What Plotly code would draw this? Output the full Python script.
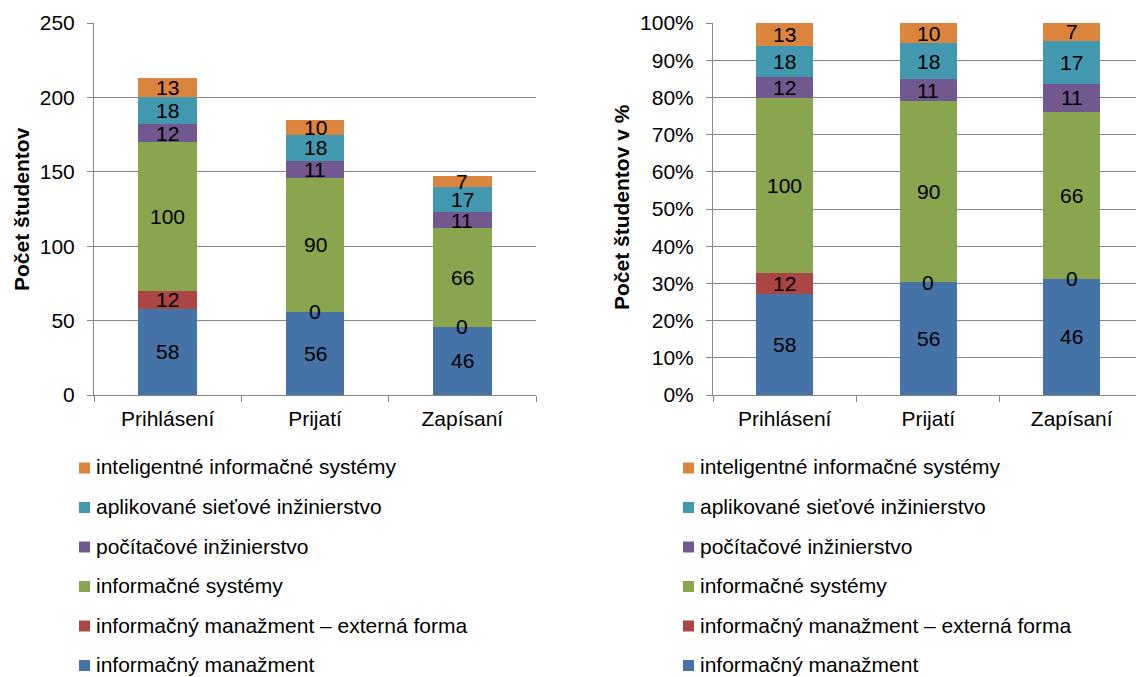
import plotly.graph_objects as go

categories = ["Prihlásení", "Prijatí", "Zapísaní"]
series_names = [
    "informačný manažment",
    "informačný manažment – externá forma",
    "informačné systémy",
    "počítačové inžinierstvo",
    "aplikované sieťové inžinierstvo",
    "inteligentné informačné systémy",
]
informacny_manazment = [58, 56, 46]
informacny_manazment_ext = [12, 0, 0]
informacne_systemy = [100, 90, 66]
pocitacove_inzinierstvo = [12, 11, 11]
aplikovane_sietove = [18, 18, 17]
inteligentne_is = [13, 10, 7]
series_values = [
    informacny_manazment,
    informacny_manazment_ext,
    informacne_systemy,
    pocitacove_inzinierstvo,
    aplikovane_sietove,
    inteligentne_is,
]
colors = ["#4572A7", "#AA4643", "#89A54E", "#71588F", "#4198AF", "#DB843D"]
y_ticks_abs = [0, 50, 100, 150, 200, 250]
y_ticks_pct = [i / 10 for i in range(11)]

FONT = "Liberation Sans, Arial, sans-serif"
FS = 21
GRID = "#878787"
W, H = 1136, 677

totals = [sum(v[i] for v in series_values) for i in range(len(categories))]

fig = go.Figure()
annotations = []
shapes = []

for name, vals, col in zip(series_names, series_values, colors):
    pct = [v / t for v, t in zip(vals, totals)]
    fig.add_trace(go.Bar(
        x=categories, y=vals, name=name, marker=dict(color=col, line=dict(width=0)),
        xaxis="x", yaxis="y", showlegend=False, width=0.4, hoverinfo="x+y+name",
    ))
    fig.add_trace(go.Bar(
        x=categories, y=pct, name=name, marker=dict(color=col, line=dict(width=0)),
        xaxis="x2", yaxis="y2", showlegend=False, width=0.4, hoverinfo="x+name",
    ))

# value labels at the middle of each stacked segment
base_abs = [0] * len(categories)
base_pct = [0.0] * len(categories)
for vals in series_values:
    for i, cat in enumerate(categories):
        v = vals[i]
        p = v / totals[i]
        annotations.append(dict(x=cat, y=base_abs[i] + v / 2, xref="x", yref="y",
                                text=str(v), showarrow=False,
                                font=dict(family=FONT, size=FS, color="#000")))
        annotations.append(dict(x=cat, y=base_pct[i] + p / 2, xref="x2", yref="y2",
                                text=str(v), showarrow=False,
                                font=dict(family=FONT, size=FS, color="#000")))
        base_abs[i] += v
        base_pct[i] += p

# y-axis titles
annotations.append(dict(text="<b>Počet študentov</b>", textangle=-90, x=21 / W, y=1 - 209 / H,
                        xref="paper", yref="paper", xanchor="center", yanchor="middle",
                        showarrow=False, font=dict(family=FONT, size=FS, color="#000")))
annotations.append(dict(text="<b>Počet študentov v %</b>", textangle=-90, x=621 / W, y=1 - 207 / H,
                        xref="paper", yref="paper", xanchor="center", yanchor="middle",
                        showarrow=False, font=dict(family=FONT, size=FS, color="#000")))

# legends below each chart, series listed top-down from the last stacked one
legend_sym_x = [79, 683]
for sym_x in legend_sym_x:
    for row, idx in enumerate(reversed(range(len(series_names)))):
        yc = 468 + 39.5 * row
        shapes.append(dict(type="rect", xref="paper", yref="paper",
                           x0=sym_x / W, x1=(sym_x + 11) / W,
                           y0=1 - (yc + 5.5) / H, y1=1 - (yc - 5.5) / H,
                           fillcolor=colors[idx], line=dict(width=0)))
        annotations.append(dict(text=series_names[idx], x=(sym_x + 15) / W, y=1 - (yc - 1) / H,
                                xref="paper", yref="paper", xanchor="left", yanchor="middle",
                                showarrow=False,
                                font=dict(family=FONT, size=FS, color="#000")))

y_dom = [1 - 395 / H, 1 - 23 / H]
axis_common = dict(showline=True, linecolor=GRID, linewidth=1, ticks="outside",
                   tickcolor=GRID, ticklen=6, automargin=False,
                   tickfont=dict(family=FONT, size=FS, color="#000"))

fig.update_layout(
    width=W, height=H, barmode="stack", showlegend=False,
    plot_bgcolor="white", paper_bgcolor="white",
    margin=dict(l=0, r=0, t=0, b=0),
    font=dict(family=FONT, size=FS, color="#000"),
    annotations=annotations,
    shapes=shapes,
    xaxis=dict(domain=[94 / W, 536 / W], anchor="y", tickson="boundaries",
               range=[-0.5, 2.5], ticklabelstandoff=5, **axis_common),
    yaxis=dict(domain=y_dom, anchor="x", range=[0, 250], tickvals=y_ticks_abs,
               ticklabelstandoff=8,
               showgrid=True, gridcolor=GRID, gridwidth=1, zeroline=False, **axis_common),
    xaxis2=dict(domain=[713 / W, 1.0], anchor="y2", tickson="boundaries",
                range=[-0.5, 2.448], ticklabelstandoff=5, **axis_common),
    yaxis2=dict(domain=y_dom, anchor="x2", range=[0, 1], tickvals=y_ticks_pct,
                tickformat=".0%", ticklabelstandoff=8, showgrid=True, gridcolor=GRID,
                gridwidth=1, zeroline=False, **axis_common),
)

fig.write_html("out.html")
